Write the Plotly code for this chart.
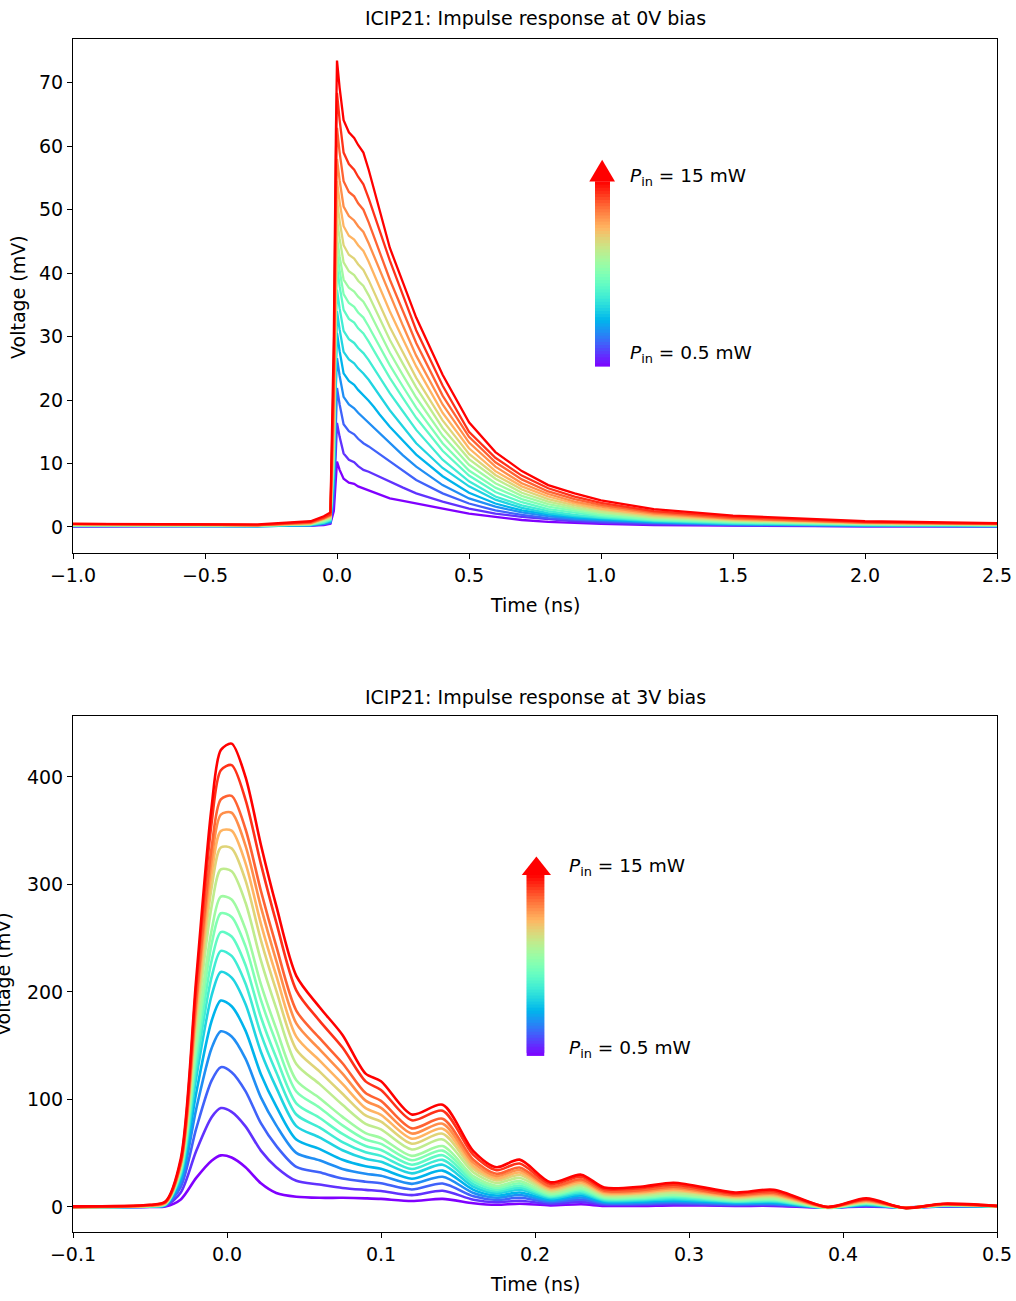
import math
import plotly.graph_objects as go

# ---------------- data: top panel (0 V bias) ----------------
top_time_ns = [-1.0, -0.6, -0.3, -0.1, -0.05, -0.025, -0.012, -0.004, 0.0, 0.01, 0.025, 0.045,
               0.065, 0.08, 0.1, 0.12, 0.14, 0.16, 0.2, 0.25, 0.3, 0.4, 0.5, 0.6, 0.7, 0.8, 0.9,
               1.0, 1.2, 1.5, 2.0, 2.5]

top_c00 = [0.1, 0.1, 0.1, 0.2, 0.3, 0.5, 2.5, 8.5, 10.3, 9.0, 7.6, 7.0, 6.8, 6.4, 6.1, 5.8, 5.5, 5.1, 4.5, 4.1, 3.7, 2.9, 2.1, 1.6, 1.1, 0.8, 0.6, 0.5, 0.3, 0.2, 0.1, 0.1]
top_c01 = [0.1, 0.1, 0.1, 0.2, 0.4, 0.6, 4.0, 13.8, 16.4, 14.2, 11.6, 10.6, 10.2, 9.6, 9.0, 8.7, 8.3, 7.9, 7.2, 6.2, 5.3, 4.0, 2.9, 2.1, 1.6, 1.2, 0.9, 0.7, 0.4, 0.3, 0.1, 0.1]
top_c02 = [0.1, 0.1, 0.1, 0.2, 0.5, 0.7, 5.5, 18.5, 21.9, 19.3, 16.2, 15.1, 14.6, 13.9, 13.2, 12.7, 12.1, 11.5, 10.3, 8.8, 7.4, 5.3, 3.7, 2.6, 1.9, 1.4, 1.1, 0.9, 0.6, 0.3, 0.2, 0.1]
top_c03 = [0.2, 0.2, 0.1, 0.3, 0.5, 0.8, 6.7, 22.5, 26.6, 23.8, 20.5, 19.3, 18.7, 18.0, 17.2, 16.5, 15.7, 14.8, 13.2, 11.3, 9.5, 6.6, 4.5, 3.2, 2.3, 1.7, 1.3, 1.1, 0.7, 0.4, 0.2, 0.1]
top_c04 = [0.2, 0.2, 0.1, 0.3, 0.6, 0.9, 7.8, 26.0, 30.6, 27.7, 24.2, 23.0, 22.4, 21.6, 20.8, 19.9, 18.9, 17.8, 15.8, 13.6, 11.4, 8.0, 5.4, 3.7, 2.6, 2.0, 1.5, 1.2, 0.8, 0.5, 0.2, 0.2]
top_c05 = [0.2, 0.2, 0.2, 0.3, 0.7, 1.0, 8.8, 29.0, 34.0, 31.1, 27.6, 26.4, 25.8, 25.0, 24.2, 23.2, 22.0, 20.7, 18.4, 15.8, 13.2, 9.3, 6.4, 4.3, 3.0, 2.2, 1.7, 1.4, 0.9, 0.5, 0.3, 0.2]
top_c06 = [0.2, 0.2, 0.2, 0.4, 0.7, 1.1, 9.8, 31.8, 37.4, 34.4, 30.9, 29.6, 29.0, 28.2, 27.4, 26.3, 25.0, 23.6, 21.1, 18.2, 15.3, 10.6, 7.2, 4.8, 3.4, 2.5, 1.9, 1.5, 1.0, 0.6, 0.3, 0.2]
top_c07 = [0.3, 0.2, 0.2, 0.4, 0.8, 1.2, 11.0, 35.0, 41.1, 37.9, 34.2, 32.8, 32.2, 31.3, 30.5, 29.2, 27.8, 26.3, 23.5, 20.3, 17.2, 12.0, 8.1, 5.5, 3.9, 2.8, 2.2, 1.7, 1.1, 0.7, 0.4, 0.3]
top_c08 = [0.3, 0.3, 0.2, 0.4, 0.9, 1.3, 12.0, 37.0, 43.5, 40.4, 36.7, 35.3, 34.7, 33.8, 33.0, 31.6, 30.1, 28.5, 25.5, 22.1, 18.8, 13.2, 8.9, 6.2, 4.4, 3.2, 2.5, 1.9, 1.2, 0.8, 0.4, 0.3]
top_c09 = [0.3, 0.3, 0.2, 0.5, 1.0, 1.4, 13.0, 38.8, 45.6, 42.6, 39.0, 37.7, 37.1, 36.3, 35.5, 34.1, 32.5, 30.7, 27.5, 23.9, 20.4, 14.4, 9.8, 6.9, 4.9, 3.6, 2.8, 2.2, 1.4, 0.9, 0.5, 0.3]
top_c10 = [0.3, 0.3, 0.2, 0.5, 1.1, 1.5, 14.5, 41.2, 48.5, 45.4, 41.7, 40.3, 39.7, 38.8, 38.0, 36.5, 34.8, 32.9, 29.5, 25.7, 22.0, 15.6, 10.7, 7.6, 5.4, 4.0, 3.1, 2.4, 1.5, 1.0, 0.5, 0.4]
top_c11 = [0.4, 0.3, 0.3, 0.5, 1.2, 1.6, 16.0, 43.8, 51.5, 48.2, 44.4, 42.9, 42.3, 41.4, 40.5, 38.9, 37.1, 35.1, 31.5, 27.5, 23.5, 16.8, 11.5, 8.2, 5.9, 4.4, 3.4, 2.7, 1.7, 1.1, 0.6, 0.4]
top_c12 = [0.4, 0.4, 0.3, 0.6, 1.3, 1.7, 17.5, 46.3, 54.5, 51.2, 47.4, 45.9, 45.3, 44.4, 43.5, 41.8, 39.9, 37.8, 34.0, 29.6, 25.3, 18.0, 12.4, 8.8, 6.4, 4.8, 3.7, 2.9, 1.9, 1.2, 0.6, 0.4]
top_c13 = [0.4, 0.4, 0.3, 0.6, 1.3, 1.8, 19.5, 49.3, 58.0, 54.6, 50.5, 49.0, 48.3, 47.4, 46.5, 44.7, 42.7, 40.5, 36.5, 31.7, 27.0, 19.3, 13.3, 9.5, 6.9, 5.2, 4.0, 3.2, 2.1, 1.3, 0.7, 0.5]
top_c14 = [0.5, 0.4, 0.3, 0.7, 1.4, 1.9, 22.0, 53.5, 62.9, 59.0, 54.5, 52.8, 52.1, 51.0, 50.0, 48.0, 45.8, 43.4, 39.0, 34.0, 29.0, 20.7, 14.2, 10.2, 7.5, 5.6, 4.4, 3.5, 2.3, 1.4, 0.7, 0.5]
top_c15 = [0.5, 0.4, 0.3, 0.8, 1.5, 2.0, 25.0, 58.1, 68.4, 64.1, 59.0, 57.2, 56.3, 55.2, 54.0, 51.8, 49.4, 46.8, 42.0, 36.5, 31.0, 22.3, 15.0, 10.9, 8.1, 6.1, 4.8, 3.8, 2.5, 1.6, 0.8, 0.5]
top_c16 = [0.5, 0.5, 0.4, 0.9, 1.7, 2.3, 30.0, 62.5, 73.5, 69.2, 64.1, 62.2, 61.3, 60.2, 59.0, 56.3, 53.3, 50.0, 44.0, 38.5, 33.0, 24.0, 16.5, 11.8, 8.8, 6.6, 5.3, 4.2, 2.8, 1.8, 0.9, 0.6]

# ---------------- data: bottom panel (3 V bias) ----------------
bot_time_ns = [-0.1, -0.05, -0.04, -0.03, -0.02, -0.01, -0.004, 0.003, 0.012, 0.022, 0.032, 0.045,
               0.06, 0.075, 0.09, 0.1, 0.12, 0.14, 0.16, 0.175, 0.19, 0.21, 0.23, 0.245, 0.27,
               0.29, 0.33, 0.355, 0.39, 0.415, 0.44, 0.465, 0.5]

bot_c00 = [0, 0, 0.5, 7, 27, 43, 48, 46, 37, 22, 13, 9.5, 8.5, 8.5, 8, 7.5, 5.5, 7.5, 3.5, 2, 3, 1.5, 2.5, 1, 1, 1.5, 1, 1, -0.5, 0.5, -0.5, 0.5, 0.3]
bot_c01 = [0, 0.2, 1, 13.5, 52, 83.4, 92, 88.5, 75, 52.4, 37, 24.3, 20.9, 17.7, 15.9, 14.9, 11, 15.1, 6.7, 4.4, 5.8, 2.9, 4.7, 2, 2, 2.5, 1.5, 1.5, -0.4, 0.8, -0.4, 0.5, 0.3]
bot_c02 = [0, 0.3, 1.5, 18.7, 72.8, 117.5, 130, 125.4, 107.8, 77.9, 56.8, 37.3, 32.2, 26.5, 23.5, 22, 16.3, 21.8, 9.9, 6.5, 8.5, 4.3, 6.8, 3, 3, 3.7, 2.2, 2.3, -0.6, 1.2, -0.5, 0.7, 0.4]
bot_c03 = [0, 0.4, 1.8, 23, 91, 147.7, 163.4, 158.5, 137.9, 101.9, 75.9, 50.3, 43.4, 35.4, 30.9, 29, 21.5, 28.1, 13, 8.6, 11.1, 5.6, 8.8, 3.9, 4, 4.9, 3, 3.1, -0.7, 1.6, -0.6, 0.9, 0.5]
bot_c04 = [0, 0.5, 2, 26.5, 106, 173, 192, 186.7, 164, 123.5, 93.6, 62.7, 54, 43.9, 37.9, 35.5, 26.3, 33.8, 15.9, 10.6, 13.5, 6.9, 10.6, 4.9, 5, 6.1, 3.7, 4, -0.7, 2, -0.7, 1.1, 0.5]
bot_c05 = [0, 0.6, 2.2, 29.5, 120, 196.7, 218.6, 213.3, 188.8, 144.4, 111, 75.2, 64.8, 52.7, 44.9, 42, 31.2, 39.3, 18.8, 12.7, 16, 8.2, 12.3, 5.9, 6.1, 7.3, 4.4, 4.8, -0.8, 2.4, -0.8, 1.2, 0.6]
bot_c06 = [0, 0.7, 2.4, 31.5, 129.6, 213.8, 238.2, 233.5, 207.8, 161, 125.3, 86, 74, 60.3, 50.9, 47.5, 35.3, 43.8, 21.3, 14.4, 18, 9.3, 13.7, 6.8, 7, 8.4, 5, 5.6, -0.8, 2.8, -0.8, 1.4, 0.6]
bot_c07 = [0, 0.8, 2.6, 33, 138, 229, 255.7, 251.6, 225.1, 176.7, 138.8, 96.4, 83, 67.9, 56.7, 53, 39.3, 48.1, 23.7, 16.1, 20, 10.3, 15, 7.6, 7.9, 9.5, 5.7, 6.3, -0.9, 3.2, -0.9, 1.5, 0.6]
bot_c08 = [0, 0.9, 2.8, 34.5, 146.3, 244.3, 273.2, 269.8, 242.6, 192.6, 152.7, 107.4, 92.5, 75.9, 62.8, 58.7, 43.5, 52.4, 26.2, 17.9, 22.1, 11.5, 16.4, 8.6, 8.8, 10.6, 6.3, 7.2, -0.7, 3.6, -0.8, 1.7, 0.7]
bot_c09 = [0, 1, 3, 35.6, 153.3, 257.5, 288.7, 286.1, 258.4, 207.3, 165.7, 117.9, 101.4, 83.8, 68.7, 64.2, 47.5, 56.6, 28.6, 19.7, 24.1, 12.5, 17.7, 9.5, 9.8, 11.7, 7, 8, -0.6, 4, -0.8, 1.8, 0.7]
bot_c10 = [0, 1.1, 3.2, 37.8, 165.4, 279.5, 314, 312.2, 283.2, 229.3, 184.7, 133, 114.5, 95, 77.3, 72.2, 53.5, 62.8, 32.2, 22.3, 27, 14.1, 19.7, 10.7, 11.1, 13.3, 8, 9.2, -0.5, 4.5, -0.8, 1.9, 0.7]
bot_c11 = [0, 1.2, 3.5, 39.2, 174.6, 296.8, 334.4, 333.6, 303.8, 248.2, 201.2, 146.5, 126.1, 105.3, 85.1, 79.4, 58.8, 68.2, 35.4, 24.6, 29.7, 15.5, 21.4, 11.9, 12.4, 14.8, 8.8, 10.2, -0.4, 5, -0.8, 2, 0.7]
bot_c12 = [0, 1.3, 3.8, 39.9, 181, 309.7, 349.7, 350.1, 319.9, 263.6, 215.1, 158.4, 136.3, 114.5, 91.9, 85.7, 63.5, 72.8, 38.2, 26.6, 32, 16.8, 22.8, 13, 13.5, 16.1, 9.6, 11.2, -0.3, 5.4, -0.8, 2.2, 0.8]
bot_c13 = [0, 1.4, 4, 40.6, 187.4, 322.5, 365, 366.7, 336.2, 279.1, 229, 170.7, 146.8, 124.1, 98.9, 92.2, 68.3, 77.5, 41, 28.8, 34.3, 18.1, 24.3, 14.1, 14.7, 17.4, 10.4, 12.2, -0.2, 5.9, -0.8, 2.3, 0.8]
bot_c14 = [0, 1.6, 4.3, 41, 193, 334.4, 379.2, 382.4, 351.6, 294.1, 242.6, 182.7, 157.2, 133.7, 105.9, 98.7, 73.1, 82, 43.9, 30.9, 36.7, 19.3, 25.7, 15.2, 15.8, 18.8, 11.2, 13.2, -0.1, 6.4, -0.8, 2.5, 0.8]
bot_c15 = [0, 1.8, 4.6, 42.7, 204.9, 357.3, 406.3, 411, 379, 319.2, 264.7, 201.5, 173.3, 148.3, 116.8, 108.8, 80.6, 89.5, 48.4, 34.2, 40.4, 21.4, 28.1, 16.8, 17.6, 20.8, 12.4, 14.7, 0, 7, -0.9, 2.8, 0.9]
bot_c16 = [0.5, 2, 5, 45, 212, 372, 425, 431, 400, 337, 280, 215, 186, 160, 124, 117, 86, 95, 52, 37, 44, 23, 30, 18, 19, 22.5, 13.5, 16, 0, 8, -1, 3, 1]

top_x_ticks = [-1.0, -0.5, 0.0, 0.5, 1.0, 1.5, 2.0, 2.5]
top_y_ticks = [0, 10, 20, 30, 40, 50, 60, 70]
bot_x_ticks = [-0.1, 0.0, 0.1, 0.2, 0.3, 0.4, 0.5]
bot_y_ticks = [0, 100, 200, 300, 400]

top_curves = [top_c00, top_c01, top_c02, top_c03, top_c04, top_c05, top_c06, top_c07, top_c08,
              top_c09, top_c10, top_c11, top_c12, top_c13, top_c14, top_c15, top_c16]
bot_curves = [bot_c00, bot_c01, bot_c02, bot_c03, bot_c04, bot_c05, bot_c06, bot_c07, bot_c08,
              bot_c09, bot_c10, bot_c11, bot_c12, bot_c13, bot_c14, bot_c15, bot_c16]

# ---------------- styling ----------------
W, H = 1016, 1301
FONT = "DejaVu Sans"
FS = 19


def rainbow(t):
    r = min(1.0, max(0.0, abs(2 * t - 0.5)))
    g = min(1.0, max(0.0, math.sin(math.pi * t)))
    b = min(1.0, max(0.0, math.cos(math.pi * t / 2)))
    return "rgb(%d,%d,%d)" % (round(r * 255), round(g * 255), round(b * 255))


def fx(px):
    return px / W


def fy(py):
    return 1 - py / H


def fmt(v):
    return ("%.1f" % v).replace("-", "\u2212")


fig = go.Figure()
n = len(top_curves)
for i, ys in enumerate(top_curves):
    fig.add_trace(go.Scatter(x=top_time_ns, y=ys, mode="lines", xaxis="x", yaxis="y",
                             line=dict(color=rainbow(i / (n - 1)), width=2.3),
                             showlegend=False, hoverinfo="skip"))
for i, ys in enumerate(bot_curves):
    fig.add_trace(go.Scatter(x=bot_time_ns, y=ys, mode="lines", xaxis="x2", yaxis="y2",
                             line=dict(color=rainbow(i / (n - 1)), width=2.6, shape="spline",
                                       smoothing=0.8),
                             showlegend=False, hoverinfo="skip"))

axis_common = dict(showline=True, linecolor="black", linewidth=1, mirror=True, ticks="outside",
                   ticklen=5, tickwidth=1, tickcolor="black", showgrid=False, zeroline=False,
                   automargin=False,
                   tickfont=dict(family=FONT, size=FS, color="black"))

fig.update_layout(
    width=W, height=H, margin=dict(l=0, r=0, t=0, b=0, pad=0, autoexpand=False), autosize=False,
    paper_bgcolor="white", plot_bgcolor="white",
    xaxis=dict(domain=[fx(73), fx(997)], range=[-1.0, 2.5], anchor="y",
               tickvals=top_x_ticks, ticktext=[fmt(v) for v in top_x_ticks], **axis_common),
    yaxis=dict(domain=[fy(553), fy(39)], range=[-4.1, 76.9], anchor="x",
               tickvals=top_y_ticks, ticktext=[str(v) for v in top_y_ticks], **axis_common),
    xaxis2=dict(domain=[fx(73), fx(997)], range=[-0.1, 0.5], anchor="y2",
                tickvals=bot_x_ticks, ticktext=[fmt(v) for v in bot_x_ticks], **axis_common),
    yaxis2=dict(domain=[fy(1232), fy(716)], range=[-23.3, 456.7], anchor="x2",
                tickvals=bot_y_ticks, ticktext=[str(v) for v in bot_y_ticks], **axis_common),
)

ann = []
txt = dict(family=FONT, size=FS, color="black")
ann.append(dict(text="ICIP21: Impulse response at 0V bias", x=fx(535), y=fy(18), xref="paper",
                yref="paper", xanchor="center", yanchor="middle", showarrow=False, font=txt))
ann.append(dict(text="ICIP21: Impulse response at 3V bias", x=fx(535), y=fy(697), xref="paper",
                yref="paper", xanchor="center", yanchor="middle", showarrow=False, font=txt))
ann.append(dict(text="Time (ns)", x=fx(535), y=fy(605), xref="paper", yref="paper",
                xanchor="center", yanchor="middle", showarrow=False, font=txt))
ann.append(dict(text="Time (ns)", x=fx(535), y=fy(1284), xref="paper", yref="paper",
                xanchor="center", yanchor="middle", showarrow=False, font=txt))
ann.append(dict(text="Voltage (mV)", x=fx(18), y=fy(297), xref="paper", yref="paper",
                xanchor="center", yanchor="middle", textangle=-90, showarrow=False, font=txt))
ann.append(dict(text="Voltage (mV)", x=fx(3), y=fy(974), xref="paper", yref="paper",
                xanchor="center", yanchor="middle", textangle=-90, showarrow=False, font=txt))

lab = dict(family=FONT, size=18.5, color="black")
P15 = "<i>P</i><sub>in</sub> = 15 mW"
P05 = "<i>P</i><sub>in</sub> = 0.5 mW"
# top arrow labels (data coords of top axes)
ann.append(dict(text=P15, x=1.102, y=55.2, xref="x", yref="y", xanchor="left", yanchor="middle",
                showarrow=False, font=lab))
ann.append(dict(text=P05, x=1.102, y=27.3, xref="x", yref="y", xanchor="left", yanchor="middle",
                showarrow=False, font=lab))
# bottom arrow labels
ann.append(dict(text=P15, x=0.2208, y=316.3, xref="x2", yref="y2", xanchor="left",
                yanchor="middle", showarrow=False, font=lab))
ann.append(dict(text=P05, x=0.2208, y=147.0, xref="x2", yref="y2", xanchor="left",
                yanchor="middle", showarrow=False, font=lab))

shapes = []


def gradient_arrow(xref, yref, xl, xr, hxl, hxr, y0, y1, ytip, nseg=60):
    out = []
    step = (y1 - y0) / nseg
    for k in range(nseg):
        a = y0 + step * k
        b = min(y0 + step * (k + 2.0), y1)
        out.append(dict(type="rect", xref=xref, yref=yref, x0=xl, x1=xr, y0=a, y1=b,
                        fillcolor=rainbow((k + 0.5) / nseg), line=dict(width=0), layer="above"))
    xc = (hxl + hxr) / 2
    out.append(dict(type="path", xref=xref, yref=yref,
                    path="M %f,%f L %f,%f L %f,%f Z" % (hxl, y1, hxr, y1, xc, ytip),
                    fillcolor="rgb(255,0,0)", line=dict(width=0), layer="above"))
    return out


shapes += gradient_arrow("x", "y", 0.9773, 1.0341, 0.9557, 1.053, 25.27, 54.44, 57.86)
shapes += gradient_arrow("x2", "y2", 0.1946, 0.2060, 0.1914, 0.2104, 140.5, 308.8, 325.9)

fig.update_layout(annotations=ann, shapes=shapes)
fig.write_html("out.html")
